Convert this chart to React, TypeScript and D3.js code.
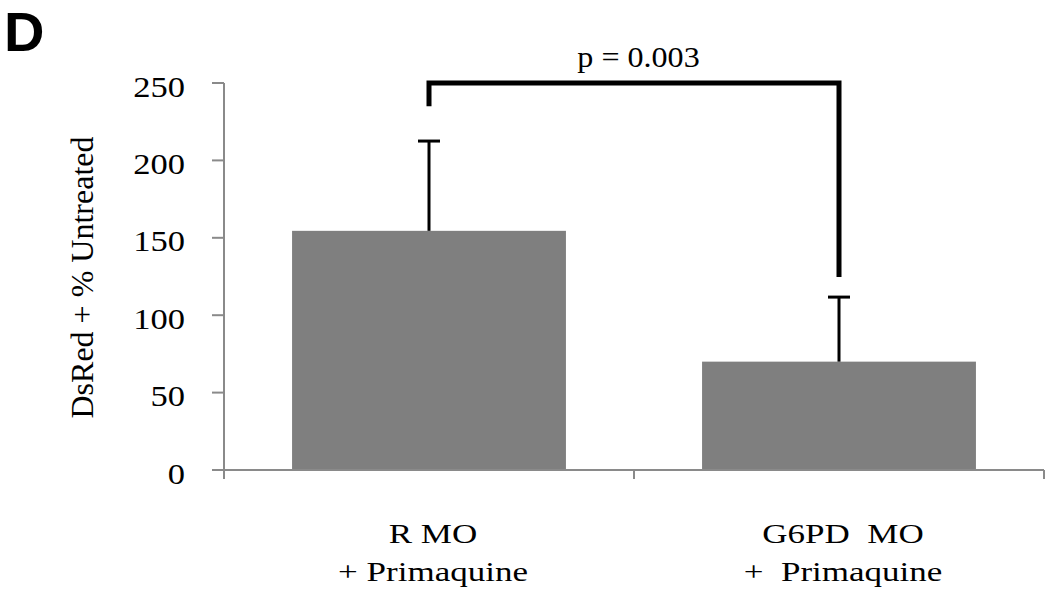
import React from 'react';
import { scaleBand, scaleLinear } from 'd3';

// values
const categories = ['R MO', 'G6PD MO'];
const labelLine1 = ['R MO', 'G6PD  MO'];
const labelLine2 = ['+ Primaquine', '+  Primaquine'];
const means = [154.5, 70];
const errTops = [212.5, 111.7];
const yTicks = [0, 50, 100, 150, 200, 250];
// significance bracket: top level, left leg end, right leg end (data units)
const bracket = [250, 235, 124.7];
const pLabel = 'p = 0.003';

const serif = { fontFamily: 'Liberation Serif', whiteSpace: 'pre' as const };

const App = () => {
  const width = 1050;
  const height = 592;
  const left = 224;
  const right = 1044;
  const y = scaleLinear().domain([0, 250]).range([470, 83]);
  const x = scaleBand<string>()
    .domain(categories)
    .range([left, right])
    .paddingInner(0.332)
    .paddingOuter(0.166);
  const step = x.step();
  const cx = (c: string) => (x(c) as number) + x.bandwidth() / 2;
  const axisColor = '#8a8a8a';

  return (
    <svg width={width} height={height} style={{ position: 'absolute', left: 0, top: 0 }}>
      <rect width={width} height={height} fill="white" />
      <text x={4} y={51} style={{ fontFamily: 'Liberation Sans' }} fontWeight="bold" fontSize={56}>D</text>

      {/* bars */}
      {categories.map((c, i) => (
        <rect key={c} x={x(c)} y={y(means[i])} width={x.bandwidth()} height={y(0) - y(means[i])} fill="#7f7f7f" />
      ))}

      {/* error bars */}
      {categories.map((c, i) => (
        <g key={'e' + c} stroke="black" strokeWidth={3}>
          <line x1={cx(c)} x2={cx(c)} y1={y(means[i])} y2={y(errTops[i])} />
          <line x1={cx(c) - 11} x2={cx(c) + 11} y1={y(errTops[i])} y2={y(errTops[i])} />
        </g>
      ))}

      {/* y axis */}
      <line x1={left} x2={left} y1={y(0)} y2={y(250)} stroke={axisColor} strokeWidth={2} />
      {yTicks.map(t => (
        <g key={t}>
          <line x1={left - 12} x2={left} y1={y(t)} y2={y(t)} stroke={axisColor} strokeWidth={2} />
          <text transform={`translate(185,${y(t) + 13.5}) scale(1.15,1)`} textAnchor="end" style={serif} fontSize={30}>{t}</text>
        </g>
      ))}

      {/* x axis */}
      <line x1={left - 12} x2={right} y1={y(0)} y2={y(0)} stroke={axisColor} strokeWidth={2} />
      {[0, 1, 2].map(k => (
        <line key={k} x1={left + k * step} x2={left + k * step} y1={y(0)} y2={y(0) + 9} stroke={axisColor} strokeWidth={2} />
      ))}
      {categories.map((c, i) => (
        <g key={'l' + c} fontSize={28} textAnchor="middle">
          <text transform={`translate(${cx(c) + 4},543) scale(1.25,1)`} style={serif}>{labelLine1[i]}</text>
          <text transform={`translate(${cx(c) + 4},581) scale(1.25,1)`} style={serif}>{labelLine2[i]}</text>
        </g>
      ))}

      {/* axis title */}
      <text transform="translate(93,277.5) rotate(-90)" textAnchor="middle" style={serif} fontSize={32}>DsRed + % Untreated</text>

      {/* significance bracket */}
      <path
        d={`M${cx(categories[0])},${y(bracket[1])}V${y(bracket[0])}H${cx(categories[1])}V${y(bracket[2])}`}
        fill="none"
        stroke="black"
        strokeWidth={5}
      />
      <text transform={`translate(638.5,67) scale(1.07,1)`} textAnchor="middle" style={serif} fontSize={30}>{pLabel}</text>
    </svg>
  );
};

export default App;
